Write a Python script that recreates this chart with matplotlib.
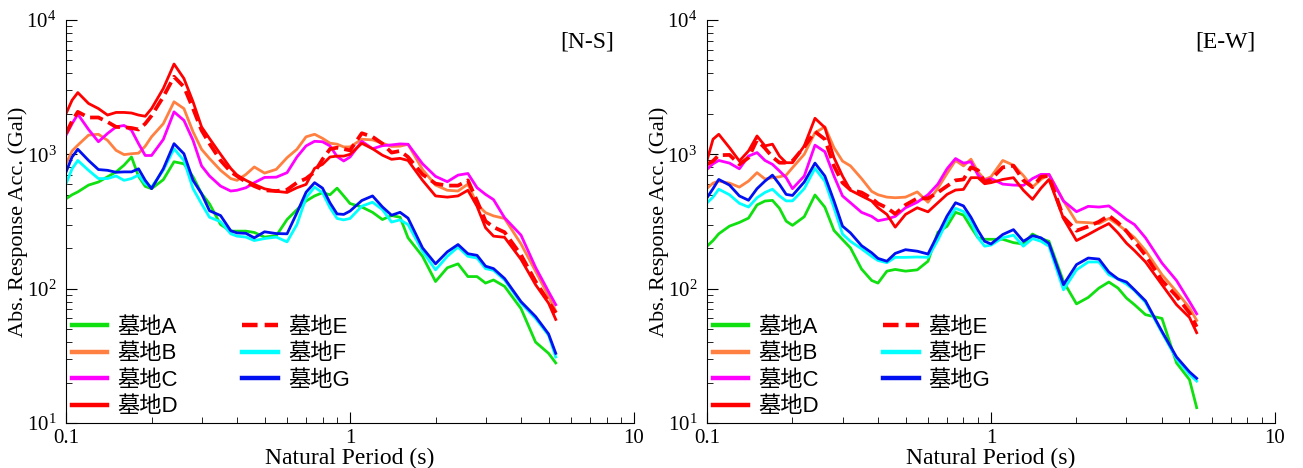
import numpy as np
import matplotlib
matplotlib.use('Agg')
import matplotlib.pyplot as plt

plt.rcParams['font.family'] = ['Liberation Serif', 'DejaVu Serif']
plt.rcParams['mathtext.fontset'] = 'custom'
plt.rcParams['mathtext.rm'] = 'Liberation Serif'

# 周期 (s)
period = [0.10, 0.105, 0.11, 0.12, 0.13, 0.14, 0.15, 0.16, 0.17, 0.18, 0.19, 0.20,
          0.22, 0.24, 0.26, 0.28, 0.30, 0.32, 0.35, 0.38, 0.40, 0.43, 0.46, 0.50,
          0.55, 0.60, 0.65, 0.70, 0.75, 0.80, 0.85, 0.90, 0.95, 1.0, 1.1, 1.2,
          1.3, 1.4, 1.5, 1.6, 1.8, 2.0, 2.2, 2.4, 2.6, 2.8, 3.0, 3.2, 3.5,
          4.0, 4.5, 5.0, 5.3]

labels = ['墓地A', '墓地B', '墓地C', '墓地D', '墓地E', '墓地F', '墓地G']

# N-S 成分
ns_a = [467, 500, 525, 590, 622, 680, 740, 830, 955, 685, 577, 555,
        647, 880, 850, 680, 510, 428, 300, 268, 268, 268, 262, 242,
        248, 327, 387, 449, 490, 518, 500, 560, 490, 430, 405, 370,
        327, 350, 340, 239, 174, 113, 143, 153, 123, 123, 110, 116, 104,
        71, 40, 33, 28]
ns_b = [850, 1060, 1170, 1390, 1410, 1270, 1070, 995, 1010, 1020, 1150, 1350,
        1690, 2460, 2190, 1470, 1090, 930, 760, 660, 640, 709, 805, 725,
        773, 944, 1090, 1350, 1410, 1315, 1210, 1190, 1135, 1135, 1295, 1280,
        1210, 1145, 1150, 1188, 770, 590, 540, 533, 600, 424, 368, 348, 333,
        215, 135, 88, 68]
ns_c = [1390, 1690, 1990, 1530, 1240, 1430, 1600, 1640, 1510, 1200, 980, 980,
        1290, 2070, 1790, 1270, 820, 690, 580, 533, 540, 564, 615, 673,
        676, 730, 955, 1155, 1250, 1240, 1155, 962, 892, 955, 1250, 1100,
        1160, 1175, 1195, 1188, 850, 685, 625, 700, 720, 564, 503, 460, 337,
        250, 144, 95, 76]
ns_d = [2010, 2530, 2880, 2390, 2190, 1960, 2050, 2050, 2030, 1960, 1920, 2190,
        3090, 4700, 3670, 2460, 1600, 1310, 1000, 786, 700, 640, 597, 554,
        530, 520, 564, 597, 786, 842, 955, 970, 970, 1000, 1208, 1100,
        985, 918, 933, 900, 640, 490, 480, 490, 540, 410, 284, 246, 241,
        165, 107, 78, 59]
ns_e = [1430, 1770, 2070, 1880, 1880, 1740, 1600, 1590, 1570, 1530, 1690, 1940,
        2680, 3780, 3180, 2190, 1510, 1200, 900, 742, 689, 622, 580, 540,
        533, 545, 615, 660, 738, 918, 1095, 1120, 1095, 1070, 1435, 1350,
        1200, 1030, 1059, 955, 709, 605, 585, 585, 640, 449, 318, 287, 263,
        178, 113, 80, 66]
ns_f = [604, 780, 900, 760, 660, 660, 690, 640, 660, 700, 604, 570,
        760, 1100, 900, 555, 428, 340, 315, 256, 246, 242, 228, 236,
        242, 223, 300, 475, 570, 518, 400, 333, 325, 333, 411, 440,
        388, 313, 325, 300, 190, 138, 174, 204, 174, 169, 141, 137, 116,
        78, 60, 45, 31]
ns_g = [740, 955, 1090, 900, 770, 760, 735, 740, 740, 780, 640, 555,
        780, 1200, 1010, 640, 510, 380, 350, 270, 260, 258, 239, 265,
        257, 256, 367, 522, 615, 560, 435, 360, 357, 378, 453, 490,
        406, 352, 370, 335, 201, 153, 188, 213, 182, 177, 147, 141, 119,
        80, 62, 46, 33]

# E-W 成分
ew_a = [207, 228, 256, 292, 311, 335, 420, 449, 454, 396, 318, 296,
        343, 498, 404, 271, 232, 201, 140, 115, 110, 135, 139, 135,
        138, 160, 263, 291, 370, 353, 287, 239, 233, 233, 233, 220,
        215, 255, 236, 225, 113, 77, 86, 101, 112, 101, 85, 76, 64,
        60, 28, 21, 13]
ew_b = [558, 610, 632, 610, 570, 632, 730, 655, 670, 680, 700, 795,
        1000, 1450, 1600, 1120, 890, 820, 660, 530, 500, 480, 475, 480,
        525, 440, 560, 720, 900, 820, 920, 740, 650, 680, 900, 830,
        695, 570, 650, 710, 450, 313, 310, 305, 333, 300, 268, 240, 192,
        127, 95, 72, 58]
ew_c = [773, 850, 900, 860, 780, 970, 1030, 900, 842, 751, 670, 555,
        689, 1170, 1045, 689, 490, 436, 370, 345, 320, 330, 345, 400,
        440, 500, 600, 780, 930, 860, 880, 700, 640, 660, 600, 590,
        587, 660, 709, 709, 449, 374, 410, 405, 413, 367, 327, 300, 239,
        155, 115, 80, 65]
ew_d = [900, 1295, 1410, 1120, 892, 1059, 1370, 1155, 1190, 970, 866, 866,
        1155, 1855, 1581, 944, 689, 540, 490, 449, 400, 357, 287, 357,
        400, 373, 436, 503, 542, 548, 670, 670, 604, 615, 650, 670,
        540, 462, 560, 650, 333, 228, 253, 280, 305, 260, 218, 192, 158,
        107, 76, 61, 47]
ew_e = [842, 892, 985, 990, 842, 944, 1280, 1110, 955, 866, 866, 892,
        1135, 1475, 1295, 818, 615, 545, 520, 470, 430, 400, 360, 420,
        470, 470, 520, 580, 640, 650, 800, 760, 620, 650, 800, 822,
        640, 570, 680, 690, 340, 270, 290, 315, 350, 310, 268, 225, 177,
        115, 88, 66, 52]
ew_f = [435, 480, 550, 500, 432, 405, 475, 520, 550, 490, 450, 450,
        555, 785, 630, 400, 255, 225, 198, 174, 162, 156, 171, 171,
        172, 171, 230, 318, 396, 375, 318, 239, 207, 211, 239, 250,
        207, 236, 225, 207, 98, 138, 158, 158, 127, 118, 108, 97, 79,
        47, 30, 23, 20.5]
ew_g = [475, 555, 650, 590, 490, 455, 555, 632, 700, 597, 503, 494,
        622, 860, 689, 449, 292, 260, 209, 185, 168, 160, 183, 195,
        190, 181, 253, 347, 436, 413, 340, 271, 225, 215, 253, 275,
        225, 248, 239, 217, 107, 151, 169, 166, 133, 118, 112, 98, 81,
        48, 31, 24, 21.5]

colors = ['#10e010', '#ff8040', '#ff00ff', '#ff0000', '#ff0000', '#00ffff', '#0010f0']
styles = ['-', '-', '-', '-', (0, (3.5, 1.6)), '-', '-']


def draw_panel(ax, series, tag):
    for vals, lab, col, ls in zip(series, labels, colors, styles):
        ax.plot(period, vals, color=col, linestyle=ls,
                linewidth=2.7 if ls != '-' else 2.0, label=lab)
    ax.set_xscale('log')
    ax.set_yscale('log')
    ax.set_xlim(0.1, 10)
    ax.set_ylim(10, 10000)
    ax.spines['top'].set_visible(False)
    ax.spines['right'].set_visible(False)
    ax.tick_params(which='both', direction='in', labelsize=15)
    ax.tick_params(which='major', length=8)
    ax.tick_params(which='minor', length=4)
    ax.tick_params(axis='y', pad=7)
    ax.tick_params(axis='x', pad=4)
    ax.set_xticks([0.1, 1, 10])
    ax.set_xticklabels(['0.1', '1', '10'])
    ax.set_xlabel('Natural Period (s)', fontsize=17, labelpad=0)
    ax.set_ylabel('Abs. Response Acc. (Gal)', fontsize=16, labelpad=-1)
    ax.text(0.965, 0.945, tag, transform=ax.transAxes, ha='right', va='center', fontsize=17)
    leg = ax.legend(loc='lower left', ncol=2, frameon=False, handlelength=1.6,
                    handletextpad=0.45, columnspacing=2.9, labelspacing=0.25,
                    borderaxespad=0.1, borderpad=0.15,
                    prop={'family': ['Liberation Sans', 'Noto Sans CJK JP'], 'size': 16})
    for h in leg.get_lines():
        h.set_linewidth(3.2)


fig = plt.figure(figsize=(13.03, 4.68), dpi=100)
ax1 = fig.add_axes([0.0507, 0.0962, 0.4359, 0.8611])
ax2 = fig.add_axes([0.5426, 0.0962, 0.4359, 0.8611])

draw_panel(ax1, [ns_a, ns_b, ns_c, ns_d, ns_e, ns_f, ns_g], '[N-S]')
draw_panel(ax2, [ew_a, ew_b, ew_c, ew_d, ew_e, ew_f, ew_g], '[E-W]')

fig.savefig('out.png', dpi=100)
